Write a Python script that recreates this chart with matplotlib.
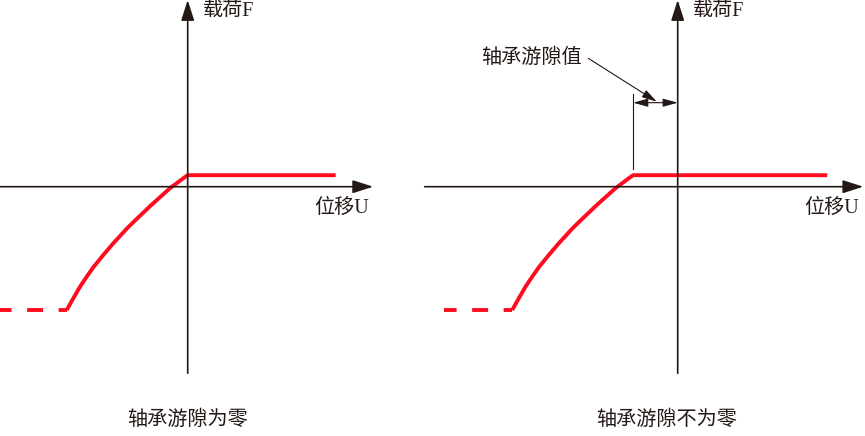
import matplotlib
matplotlib.use("Agg")
from matplotlib import pyplot as plt

plt.rcParams['font.family'] = ['Liberation Serif', 'Noto Sans CJK SC', 'DejaVu Sans']
plt.rcParams['lines.scale_dashes'] = False

# curva de carga (zero de folga), U e F em unidades do esquema
u_curva = [-12.1, -11.44, -10.77, -10.1, -9.44, -8.44, -7.44, -6.1, -5.44,
           -3.77, -1.77, -0.27, 0.0]
f_curva = [-12.33, -11.16, -10.0, -9.0, -8.06, -6.83, -5.66, -4.2, -3.55,
           -1.95, -0.15, 0.97, 1.15]
u_fim = 14.8          # fim do patamar
u_tracejado = 6.8     # comprimento do trecho tracejado

folga = 4.45          # folga do rolamento (deslocamento da curva)

titulos = ['轴承游隙为零', '轴承游隙不为零']
rotulo_f = '载荷F'
rotulo_u = '位移U'
rotulo_folga = '轴承游隙值'

vermelho = '#ff0a1e'
preto = '#231815'

fig = plt.figure(figsize=(8.65, 4.36), dpi=100)

# limites de cada painel (origem no cruzamento dos eixos)
limites_x = [(-18.77, 24.48), (-24.52, 18.73)]
limites_eixo_u = [(-18.8, 18.55), (-25.3, 18.56)]
deslocamentos = [0.0, -folga]
centros_titulo = [0.03, -1.07]

for i in range(2):
    ax = fig.add_axes([0.5 * i, 0, 0.5, 1])
    ax.set_xlim(*limites_x[i])
    ax.set_ylim(-24.93, 18.67)
    ax.axis('off')

    # eixos com setas
    seta = dict(arrowstyle='-|>,head_length=1.25,head_width=0.4', color=preto,
                lw=1.2, shrinkA=0, shrinkB=0, mutation_scale=10)
    ax.annotate('', xy=(limites_eixo_u[i][1], 0), xytext=(limites_eixo_u[i][0], 0),
                arrowprops=seta)
    ax.annotate('', xy=(0, 18.67), xytext=(0, -18.66), arrowprops=seta)

    d = deslocamentos[i]
    u = [x + d for x in u_curva]
    # curva + patamar
    ax.plot(u + [u_fim + (0.15 if i else 0)], f_curva + [f_curva[-1]],
            color=vermelho, lw=2.8, solid_capstyle='butt', solid_joinstyle='round')
    # trecho tracejado (desenhado a partir da curva para a esquerda)
    ax.plot([u[0], u[0] - u_tracejado], [f_curva[0], f_curva[0]],
            color=vermelho, lw=2.8, linestyle=(5.5, (11.5, 11.2)), dash_capstyle='butt')

    ax.text(1.53, 17.4, rotulo_f, fontsize=14.5, ha='left', va='center', color=preto)
    ax.text(18.1, -2.13, rotulo_u, fontsize=14.5, ha='right', va='center', color=preto)
    ax.text(centros_titulo[i], -23.4, titulos[i], fontsize=14.5, ha='center',
            va='center', color=preto)

    if i == 1:
        # linha de extensao e cota da folga
        ax.plot([-folga, -folga], [1.8, 9.3], color=preto, lw=0.8)
        ax.annotate('', xy=(-folga, 8.4), xytext=(0, 8.4),
                    arrowprops=dict(arrowstyle='<|-|>,head_length=0.9,head_width=0.25',
                                    color=preto, lw=0.8, shrinkA=0, shrinkB=0,
                                    mutation_scale=10))
        ax.annotate('', xy=(-2.1, 8.5), xytext=(-8.94, 12.84),
                    arrowprops=dict(arrowstyle='-|>,head_length=0.9,head_width=0.25',
                                    color=preto, lw=0.8, shrinkA=0, shrinkB=0,
                                    mutation_scale=10))
        ax.text(-9.6, 12.87, rotulo_folga, fontsize=14.5, ha='right', va='center',
                color=preto)

fig.savefig('out.png', dpi=100)
